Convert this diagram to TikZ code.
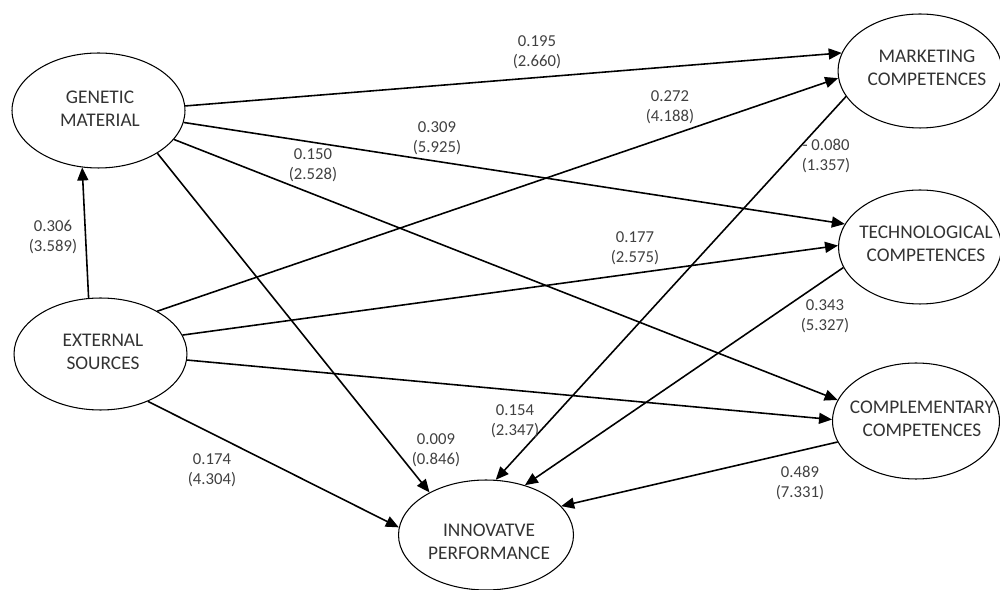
\documentclass[tikz,border=0pt]{standalone}
\usepackage{fontspec}
\setmainfont{Carlito}
\usetikzlibrary{shapes.geometric,arrows.meta}
\begin{document}
\begin{tikzpicture}[x=0.02cm,y=-0.02cm,
  latent/.style={ellipse,draw,line width=0.6pt,inner sep=0pt},
  ltext/.style={align=center,text=black!80,inner sep=0pt,font=\fontsize{11}{13}\selectfont},
  coef/.style={align=center,text=black!75,inner sep=0pt,font=\fontsize{9.5}{11.4}\selectfont},
  effect/.style={line width=0.9pt,-{Triangle[length=2.6mm,width=2.2mm]}}]
\useasboundingbox (0,0) rectangle (1000,590);

% constructs
\node[latent,minimum width=3.46cm,minimum height=2.30cm] (gm) at (98.5,110.5) {};
\node[latent,minimum width=3.46cm,minimum height=2.24cm] (es) at (100.5,354) {};
\node[latent,minimum width=3.28cm,minimum height=2.28cm] (mc) at (920,71) {};
\node[latent,minimum width=3.26cm,minimum height=2.28cm] (tc) at (920,247) {};
\node[latent,minimum width=3.34cm,minimum height=2.32cm] (cc) at (916,421) {};
\node[latent,minimum width=3.50cm,minimum height=2.20cm] (ip) at (486,535) {};

\node[ltext] (gmt) at (100,108.5) {GENETIC\\MATERIAL};
\node[ltext] (est) at (103,352) {EXTERNAL\\SOURCES};
\node[ltext] (mct) at (927,67.5) {MARKETING\\COMPETENCES};
\node[ltext] (tct) at (926,244) {TECHNOLOGICAL\\COMPETENCES};
\node[ltext] (cct) at (922,418.5) {COMPLEMENTARY\\COMPETENCES};
\node[ltext] (ipt) at (489,542) {INNOVATVE\\PERFORMANCE};

% structural paths
\draw[effect] (es.102.6) -- (gm.-106);
\draw[effect] (gm.3) -- (mc.167);
\draw[effect] (gm.-8) -- (tc.163);
\draw[effect] (gm.-21) -- (cc.165);
\draw[effect] (gm.-36) -- (ip.143);
\draw[effect] (es.37) -- (mc.185);
\draw[effect] (es.13) -- (tc.179);
\draw[effect] (es.-4) -- (cc.179);
\draw[effect] (es.-45) -- (ip.175);
\draw[effect] (mc.199) -- (ip.80);
\draw[effect] (tc.195) -- (ip.52);
\draw[effect] (cc.195) -- (ip.21);

% path coefficients (t-values)
\node[coef] (c1) at (537,52) {0.195\\(2.660)};
\node[coef] (c2) at (670,107) {0.272\\(4.188)};
\node[coef] (c3) at (437,138) {0.309\\(5.925)};
\node[coef] (c4) at (313,165) {0.150\\(2.528)};
\node[coef] (c5) at (635,248) {0.177\\(2.575)};
\node[coef] (c6) at (515,421) {0.154\\(2.347)};
\node[coef] (c7) at (436,450) {0.009\\(0.846)};
\node[coef] (c8) at (212,470) {0.174\\(4.304)};
\node[coef] (c9) at (826,156) {- 0.080\\(1.357)};
\node[coef] (c10) at (825,316) {0.343\\(5.327)};
\node[coef] (c11) at (800,483) {0.489\\(7.331)};
\node[coef] (c12) at (53,237) {0.306\\(3.589)};
\end{tikzpicture}
\end{document}
